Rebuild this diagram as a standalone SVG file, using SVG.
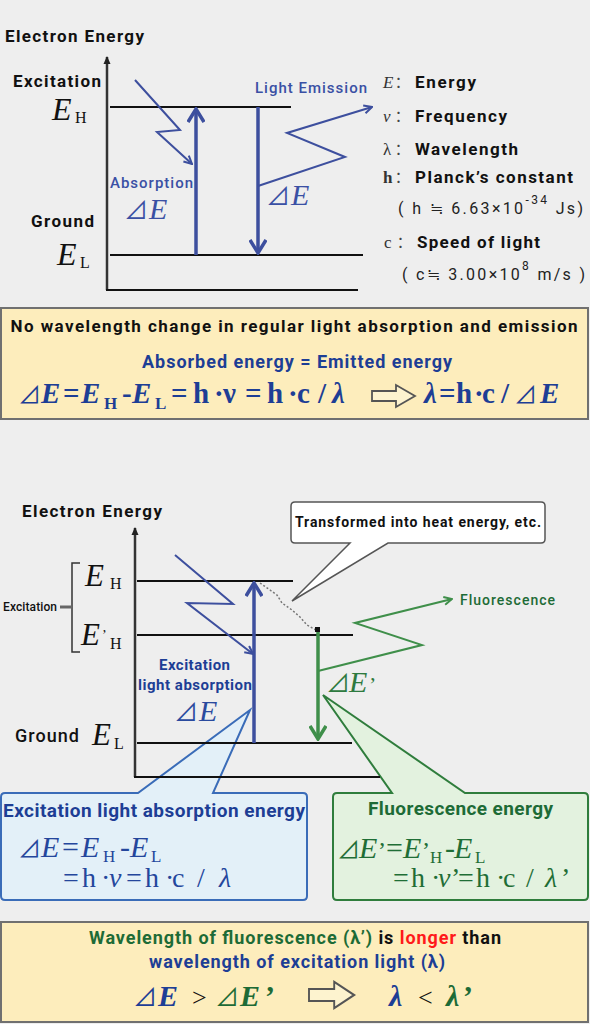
<svg xmlns="http://www.w3.org/2000/svg" width="590" height="1024" viewBox="0 0 590 1024">
<defs>
<style>
text{font-family:Roboto,"Liberation Sans","Noto Sans CJK JP",sans-serif}
.b{font-weight:700}
.md{font-weight:500}
.k{fill:#111}
.bl{fill:#1d3e95}
.lb{fill:#3a50a4}
.gr{fill:#1d6b36}
.rd{fill:#ff1a1a}
.sr{font-family:"Liberation Serif","DejaVu Serif",serif}
.it{font-style:italic}
.up{font-style:normal}
.tr{font-family:"Noto Sans CJK JP","DejaVu Sans",sans-serif;font-style:normal;font-weight:400}
.cjk{font-family:"Noto Sans CJK JP",sans-serif}
.lv{stroke:#111;stroke-width:2}
.ax{stroke:#333;stroke-width:2.5}
.bA{stroke:#3d4f9e;stroke-width:3.5;fill:none}
.bZ{stroke:#3d4f9e;stroke-width:2;fill:none}
.gA{stroke:#3f8f4a;stroke-width:3.5;fill:none}
.gZ{stroke:#3f8f4a;stroke-width:2;fill:none}
.box{fill:#fdedbc;stroke:#707070;stroke-width:2}
.hol{fill:#fdf3cf;stroke:#555;stroke-width:1.8}
</style>
<marker id="hB" viewBox="0 0 16 18" refX="14" refY="9" markerWidth="16" markerHeight="18" markerUnits="userSpaceOnUse" orient="auto"><path d="M1,1 L14,9 L1,17" fill="none" stroke="#3d4f9e" stroke-width="3.5"/></marker>
<marker id="hG" viewBox="0 0 16 18" refX="14" refY="9" markerWidth="16" markerHeight="18" markerUnits="userSpaceOnUse" orient="auto"><path d="M1,1 L14,9 L1,17" fill="none" stroke="#3f8f4a" stroke-width="3.5"/></marker>
<marker id="tB" viewBox="0 0 10 10" refX="9" refY="5" markerWidth="10" markerHeight="10" markerUnits="userSpaceOnUse" orient="auto"><path d="M1,1 L9,5 L1,9" fill="none" stroke="#3d4f9e" stroke-width="2"/></marker>
<marker id="tG" viewBox="0 0 10 10" refX="9" refY="5" markerWidth="10" markerHeight="10" markerUnits="userSpaceOnUse" orient="auto"><path d="M1,1 L9,5 L1,9" fill="none" stroke="#3f8f4a" stroke-width="2"/></marker>
<marker id="ax" viewBox="0 0 8 8" refX="7" refY="4" markerWidth="8" markerHeight="8" markerUnits="userSpaceOnUse" orient="auto"><path d="M0,0.5 L8,4 L0,7.5 Z" fill="#222"/></marker>
<path id="holArrow" d="M0,-5 H24 V-11 L43,0 L24,11 V5 H0 Z"/>
</defs>

<rect width="590" height="1024" fill="#eeeeee"/>

<!-- ===== TOP DIAGRAM ===== -->
<g id="top-axis">
  <line class="ax" x1="107" y1="290" x2="107" y2="57" marker-end="url(#ax)"/>
  <line class="lv" x1="106" y1="290" x2="358" y2="290"/>
</g>
<g id="top-levels">
  <line class="lv" x1="110" y1="107" x2="291" y2="107"/>
  <line class="lv" x1="110" y1="255" x2="363" y2="255"/>
</g>
<g id="top-connectors">
  <line class="bA" x1="196" y1="255" x2="196" y2="109" marker-end="url(#hB)"/>
  <line class="bA" x1="258" y1="107" x2="258" y2="253" marker-end="url(#hB)"/>
  <polyline class="bZ" points="135,80 180,130 157,132 192,164" marker-end="url(#tB)"/>
  <polyline class="bZ" points="258,186 345,157 287,133 372,107" marker-end="url(#tB)"/>
</g>
<g id="top-labels">
  <text class="b k" x="5" y="42" font-size="17" textLength="139">Electron Energy</text>
  <text class="b k" x="13" y="87" font-size="17" textLength="88">Excitation</text>
  <text class="b k" x="31" y="227" font-size="17" textLength="63">Ground</text>
  <text class="sr it k" x="52" y="120" font-size="32">E</text>
  <text class="sr k" x="75" y="123" font-size="16">H</text>
  <text class="sr it k" x="57" y="265" font-size="32">E</text>
  <text class="sr k" x="80" y="268" font-size="16">L</text>
  <text class="md lb" x="110" y="188" font-size="15" textLength="83">Absorption</text>
  <text class="sr it lb" x="124" y="219" font-size="30"><tspan class="tr" font-size="24">⊿</tspan><tspan x="149">E</tspan></text>
  <text class="md lb" x="255" y="93" font-size="15" textLength="112">Light Emission</text>
  <text class="sr it lb" x="266" y="205" font-size="30"><tspan class="tr" font-size="24">⊿</tspan><tspan x="291">E</tspan></text>
</g>
<g id="legend">
  <text class="sr it" x="383" y="88" font-size="17" fill="#333">E</text>
  <text class="sr it" x="383" y="122" font-size="17" fill="#333">ν</text>
  <text class="sr" x="383" y="155" font-size="17" fill="#333">λ</text>
  <text class="sr b" x="383" y="183" font-size="17" fill="#333">h</text>
  <text class="sr" x="384" y="248" font-size="17" fill="#333">c</text>
  <text class="cjk" x="391" y="88" font-size="15" fill="#444">：</text>
  <text class="cjk" x="391" y="122" font-size="15" fill="#444">：</text>
  <text class="cjk" x="391" y="155" font-size="15" fill="#444">：</text>
  <text class="cjk" x="391" y="183" font-size="15" fill="#444">：</text>
  <text class="cjk" x="393" y="248" font-size="15" fill="#444">：</text>
  <text class="b k" x="415" y="88" font-size="17" textLength="61">Energy</text>
  <text class="b k" x="415" y="122" font-size="17" textLength="92">Frequency</text>
  <text class="b k" x="415" y="155" font-size="17" textLength="103">Wavelength</text>
  <text class="b k" x="415" y="183" font-size="17" textLength="158">Planck’s constant</text>
  <text fill="#222" x="398" y="214" font-size="16" textLength="185">( h ≒ 6.63×10<tspan dy="-10" font-size="12">-34</tspan><tspan dy="10"> Js)</tspan></text>
  <text class="b k" x="417" y="248" font-size="17" textLength="123">Speed of light</text>
  <text fill="#222" x="402" y="280" font-size="16" textLength="183">( c≒ 3.00×10<tspan dy="-10" font-size="12">8</tspan><tspan dy="10"> m/s )</tspan></text>
</g>

<!-- ===== BOX 1 ===== -->
<g id="box1">
  <rect class="box" x="1" y="308" width="587" height="111"/>
  <text class="b k" x="294" y="332" font-size="17" text-anchor="middle" textLength="567">No wavelength change in regular light absorption and emission</text>
  <text class="b bl" x="297" y="368" font-size="18" text-anchor="middle" textLength="310">Absorbed energy = Emitted energy</text>
  <text class="sr b bl" y="403" font-size="29">
    <tspan class="tr" x="18" font-size="23">⊿</tspan><tspan class="it" x="41">E</tspan><tspan x="63">=</tspan><tspan class="it" x="81">E</tspan><tspan x="104" y="409" font-size="17">H</tspan><tspan x="122" y="403">-</tspan><tspan class="it" x="132">E</tspan><tspan x="155" y="409" font-size="17">L</tspan><tspan x="171" y="403">=</tspan><tspan x="193">h</tspan><tspan x="214">·</tspan><tspan x="223">ν</tspan><tspan x="245">=</tspan><tspan x="267">h</tspan><tspan x="288">·</tspan><tspan x="297">c</tspan><tspan x="318">/</tspan><tspan class="it" x="332">λ</tspan>
    <tspan class="it" x="424">λ</tspan><tspan x="439">=</tspan><tspan x="456">h</tspan><tspan x="474">·</tspan><tspan x="482">c</tspan><tspan x="501">/</tspan><tspan class="tr" x="514" font-size="23">⊿</tspan><tspan class="it" x="540">E</tspan>
  </text>
  <use href="#holArrow" class="hol" transform="translate(372,396)"/>
</g>

<!-- ===== LOWER DIAGRAM: callouts (behind) ===== -->
<g id="callout-absorption">
  <path d="M5,793 H138 L250,710 L213,793 H303 Q307,793 307,797 V896 Q307,900 303,900 H5 Q1,900 1,896 V797 Q1,793 5,793 Z" fill="#e3f0f8" stroke="#3a6cb8" stroke-width="2"/>
  <text class="b bl" x="3" y="817" font-size="19" textLength="302">Excitation light absorption energy</text>
  <text class="sr it" y="857" font-size="30" fill="#24469c">
    <tspan class="tr" x="18" font-size="23">⊿</tspan><tspan x="41">E</tspan><tspan class="up" x="62">=</tspan><tspan x="81">E</tspan><tspan class="up" x="103" y="862" font-size="17">H</tspan><tspan class="up" x="120" y="857">-</tspan><tspan x="130">E</tspan><tspan class="up" x="151" y="862" font-size="17">L</tspan>
  </text>
  <text class="sr" y="887" font-size="28" fill="#24469c">
    <tspan x="63">=</tspan><tspan x="82">h</tspan><tspan x="101">·</tspan><tspan class="it" x="109">ν</tspan><tspan x="126">=</tspan><tspan x="145">h</tspan><tspan x="165">·</tspan><tspan x="172">c</tspan><tspan x="197">/</tspan><tspan class="it" x="219">λ</tspan>
  </text>
</g>
<g id="callout-fluorescence">
  <path d="M337,793 H392 L323,695 L465,793 H584 Q588,793 588,797 V896 Q588,900 584,900 H337 Q333,900 333,896 V797 Q333,793 337,793 Z" fill="#e3f2df" stroke="#2f7d3c" stroke-width="2"/>
  <text class="b gr" x="368" y="815" font-size="19" textLength="185">Fluorescence energy</text>
  <text class="sr it" y="858" font-size="30" fill="#1f6e36">
    <tspan class="tr" x="337" font-size="23">⊿</tspan><tspan x="359">E</tspan><tspan class="up" x="378" font-size="24">’</tspan><tspan class="up" x="386">=</tspan><tspan x="403">E</tspan><tspan class="up" x="422" font-size="24">’</tspan><tspan class="up" x="430" y="863" font-size="17">H</tspan><tspan class="up" x="445" y="858">-</tspan><tspan x="454">E</tspan><tspan class="up" x="475" y="863" font-size="17">L</tspan>
  </text>
  <text class="sr" y="887" font-size="28" fill="#1f6e36">
    <tspan x="393">=</tspan><tspan x="411">h</tspan><tspan x="431">·</tspan><tspan class="it" x="438">ν</tspan><tspan x="451">’</tspan><tspan x="458">=</tspan><tspan x="476">h</tspan><tspan x="496">·</tspan><tspan x="503">c</tspan><tspan x="526">/</tspan><tspan class="it" x="545">λ</tspan><tspan x="561">’</tspan>
  </text>
</g>
<g id="callout-heat">
  <path d="M295,502 H541 Q545,502 545,506 V539 Q545,543 541,543 H388 L292,601 L350,543 H295 Q291,543 291,539 V506 Q291,502 295,502 Z" fill="#ffffff" stroke="#555" stroke-width="1.5"/>
  <text class="b k" x="295" y="527" font-size="14" textLength="246">Transformed into heat energy, etc.</text>
</g>

<!-- ===== LOWER DIAGRAM ===== -->
<g id="low-axis">
  <line class="ax" x1="135" y1="777" x2="135" y2="528" marker-end="url(#ax)" stroke="#111"/>
  <line class="lv" x1="134" y1="777" x2="380" y2="777"/>
</g>
<g id="low-levels">
  <line class="lv" x1="137" y1="581" x2="293" y2="581"/>
  <line class="lv" x1="137" y1="635" x2="353" y2="635"/>
  <line class="lv" x1="137" y1="743" x2="352" y2="743"/>
</g>
<g id="excitation-bracket">
  <path d="M80,563 H72 V652 H80" fill="none" stroke="#333" stroke-width="1.5"/>
  <line x1="60" y1="607" x2="72" y2="607" stroke="#666" stroke-width="3"/>
  <text class="md k" x="3" y="611" font-size="12" textLength="54">Excitation</text>
</g>
<g id="low-connectors">
  <polyline class="bZ" points="175,555 233,604 187,603 253,654" marker-end="url(#tB)"/>
  <line class="bA" x1="254" y1="743" x2="254" y2="583" marker-end="url(#hB)"/>
  <path d="M260,583 L270,590 L277,595 L282,603 L292,610 L300,617 L307,625 L316,630" fill="none" stroke="#777" stroke-width="1.5" stroke-dasharray="2 2"/>
  <rect x="315" y="627" width="5" height="5" fill="#111"/>
  <line class="gA" x1="318" y1="632" x2="318" y2="739" marker-end="url(#hG)"/>
  <polyline class="gZ" points="318,671 422,645 355,623 452,599" marker-end="url(#tG)"/>
</g>
<g id="low-labels">
  <text class="b k" x="22" y="517" font-size="17" textLength="140">Electron Energy</text>
  <text class="sr it k" x="85" y="586" font-size="31">E</text>
  <text class="sr k" x="110" y="589" font-size="16">H</text>
  <text class="sr it k" x="81" y="645" font-size="31">E</text>
  <text class="sr k" x="102" y="640" font-size="14">’</text>
  <text class="sr k" x="110" y="649" font-size="16">H</text>
  <text class="md k" x="15" y="742" font-size="18" textLength="64">Ground</text>
  <text class="sr it k" x="92" y="745" font-size="31">E</text>
  <text class="sr k" x="114" y="749" font-size="16">L</text>
  <text class="b bl" x="159" y="670" font-size="15" textLength="71">Excitation</text>
  <text class="b bl" x="138" y="690" font-size="15" textLength="114">light absorption</text>
  <text class="sr it" x="174" y="721" font-size="30" fill="#2a4a9e"><tspan class="tr" font-size="24">⊿</tspan><tspan x="199">E</tspan></text>
  <text class="md gr" x="460" y="605" font-size="14" textLength="95">Fluorescence</text>
  <text class="sr it" x="326" y="692" font-size="30" fill="#2e7a40"><tspan class="tr" font-size="24">⊿</tspan><tspan x="349">E</tspan><tspan x="369" font-size="22" font-style="normal">’</tspan></text>
</g>

<!-- ===== BOX 2 ===== -->
<g id="box2">
  <rect class="box" x="1" y="922" width="587" height="100"/>
  <text class="b" x="295" y="944" font-size="18" text-anchor="middle" textLength="412"><tspan class="gr">Wavelength of fluorescence (λ’)</tspan><tspan class="k"> is </tspan><tspan class="rd">longer</tspan><tspan class="k"> than</tspan></text>
  <text class="b bl" x="297" y="968" font-size="18" text-anchor="middle" textLength="296">wavelength of excitation light (λ)</text>
  <text class="sr b" y="1006" font-size="30">
    <tspan class="tr bl" x="133" font-size="24">⊿</tspan><tspan class="it bl" x="158">E</tspan><tspan class="k" x="192" font-size="26" font-weight="400">&gt;</tspan><tspan class="tr gr" x="215" font-size="24">⊿</tspan><tspan class="it gr" x="240">E</tspan><tspan class="gr" x="265">’</tspan>
    <tspan class="it bl" x="389">λ</tspan><tspan class="k" x="418" font-size="26" font-weight="400">&lt;</tspan><tspan class="it gr" x="446">λ</tspan><tspan class="gr" x="463">’</tspan>
  </text>
  <use href="#holArrow" class="hol" transform="translate(309,995) scale(1.05,1.2)"/>
</g>
</svg>
